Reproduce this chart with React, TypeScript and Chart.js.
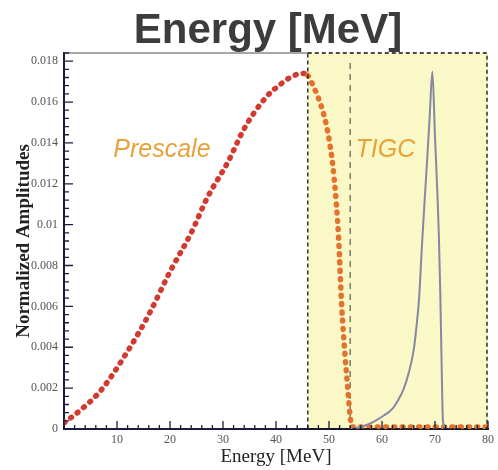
import React, { useEffect, useRef } from "react";
import { Chart, registerables } from "chart.js";

Chart.register(...registerables);

const chartTitle = "Energy [MeV]";
const xAxisTitle = "Energy [MeV]";
const yAxisTitle = "Normalized Amplitudes";

const prescaleEnergy = [0, 3, 7, 12, 16, 20, 24, 27, 31, 34, 38, 41, 43, 45, 46, 47, 48, 49, 50, 51, 51.8, 52.4, 53, 53.5, 54, 54.3, 60, 70, 80];
const prescaleAmp = [0.0003, 0.0009, 0.0019, 0.0038, 0.0056, 0.0077, 0.0096, 0.0113, 0.0131, 0.0147, 0.0162, 0.0169, 0.01725, 0.0174, 0.0173, 0.0168, 0.0162, 0.0154, 0.0142, 0.0122, 0.0094, 0.006, 0.0037, 0.0021, 0.0006, 0.0001, 0.0001, 0.0001, 0.0001];

const tigcEnergy = [54, 56, 58, 60, 62, 63, 64, 65, 66, 66.5, 67, 67.5, 68, 68.5, 69, 69.5, 70, 70.5, 70.75, 71, 71.25, 71.5, 72];
const tigcAmp = [0, 0.0001, 0.0003, 0.0006, 0.001, 0.0014, 0.0019, 0.0027, 0.0039, 0.005, 0.0064, 0.0088, 0.011, 0.0131, 0.0153, 0.0175, 0.0143, 0.0112, 0.0093, 0.0066, 0.0032, 0.0004, 0];

const yTickValues = [0, 0.002, 0.004, 0.006, 0.008, 0.01, 0.012, 0.014, 0.016, 0.018];
const tigcRegion = [46, 80];
const thresholdEnergy = [54];
const regionLabels = ["Prescale", "TIGC"];
const regionLabelAt = [[9.3, 0.0133], [55, 0.0133]];

const X_MIN = 0, X_MAX = 80, Y_MIN = 0, Y_MAX = 0.0184;

const decorPlugin = {
  id: "decor",
  beforeDraw(chart: any) {
    const { ctx, chartArea, scales } = chart;
    const x = scales.x;
    const x0 = x.getPixelForValue(tigcRegion[0]);
    const x1 = x.getPixelForValue(tigcRegion[1]);
    ctx.save();
    ctx.fillStyle = "#f9f8c6";
    ctx.fillRect(x0, chartArea.top, x1 - x0, chartArea.bottom - chartArea.top);
    ctx.restore();
    ctx.save();
    ctx.font = "bold 42px 'Liberation Sans', Arial, sans-serif";
    ctx.fillStyle = "#3c3c3c";
    ctx.textAlign = "center";
    ctx.textBaseline = "alphabetic";
    ctx.fillText(chartTitle, 268, 43);
    ctx.restore();
  },
  beforeDatasetsDraw(chart: any) {
    const { ctx, chartArea, scales } = chart;
    const xt = scales.x.getPixelForValue(thresholdEnergy[0]);
    ctx.save();
    ctx.strokeStyle = "#7c7c66";
    ctx.lineWidth = 1.5;
    ctx.setLineDash([6, 5]);
    ctx.beginPath();
    ctx.moveTo(xt, chartArea.top + 10);
    ctx.lineTo(xt, chartArea.bottom);
    ctx.stroke();
    ctx.restore();
  },
  afterDatasetsDraw(chart: any) {
    const { ctx, chartArea, scales } = chart;
    const x = scales.x, y = scales.y;
    const x0 = x.getPixelForValue(tigcRegion[0]);
    const x1 = x.getPixelForValue(tigcRegion[1]);
    ctx.save();
    ctx.strokeStyle = "#8a8a8a";
    ctx.lineWidth = 1.5;
    ctx.beginPath();
    ctx.moveTo(chartArea.left, chartArea.top);
    ctx.lineTo(x0, chartArea.top);
    ctx.stroke();
    ctx.strokeStyle = "#111";
    ctx.lineWidth = 1.3;
    ctx.setLineDash([4, 3]);
    ctx.strokeRect(x0, chartArea.top, x1 - x0 - 1, chartArea.bottom - chartArea.top);
    ctx.setLineDash([]);
    ctx.strokeStyle = "#1c1c3a";
    ctx.lineWidth = 1.3;
    ctx.beginPath();
    for (let v = X_MIN; v <= X_MAX + 1e-9; v += 2) {
      const px = x.getPixelForValue(v);
      const major = Math.abs(v % 10) < 1e-9;
      ctx.moveTo(px, chartArea.bottom);
      ctx.lineTo(px, chartArea.bottom - (major ? 8 : 4));
    }
    for (let i = 0; i * 0.0004 <= Y_MAX; i++) {
      const v = i * 0.0004;
      const py = y.getPixelForValue(v);
      const major = i % 5 === 0;
      ctx.moveTo(chartArea.left, py);
      ctx.lineTo(chartArea.left + (major ? 9 : 5), py);
    }
    ctx.stroke();
    ctx.font = "italic 25px 'Liberation Sans', Arial, sans-serif";
    ctx.fillStyle = "#e8a23a";
    ctx.textAlign = "left";
    ctx.textBaseline = "alphabetic";
    regionLabels.forEach((t, i) => {
      ctx.fillText(t, x.getPixelForValue(regionLabelAt[i][0]), y.getPixelForValue(regionLabelAt[i][1]));
    });
    ctx.restore();
  },
};

export default function App() {
  const ref = useRef<HTMLCanvasElement>(null);
  useEffect(() => {
    document.body.style.margin = "0";
    const red = "#d23a30";
    const orange = "#e2722e";
    const chart = new Chart(ref.current!, {
      type: "line",
      data: {
        datasets: [
          {
            label: "TIGC",
            data: tigcEnergy.map((e, i) => ({ x: e, y: tigcAmp[i] })),
            borderColor: "#8886a6",
            borderWidth: 2,
            pointRadius: 0,
            cubicInterpolationMode: "monotone",
            fill: false,
          },
          {
            label: "Prescale",
            data: prescaleEnergy.map((e, i) => ({ x: e, y: prescaleAmp[i] })),
            borderColor: red,
            borderWidth: 5.5,
            borderDash: [1, 7.3],
            borderCapStyle: "round",
            pointRadius: 0,
            cubicInterpolationMode: "monotone",
            fill: false,
            segment: {
              borderColor: (c: any) => (c.p0.parsed.x >= tigcRegion[0] ? orange : red),
            },
          },
        ],
      },
      options: {
        animation: false,
        responsive: false,
        maintainAspectRatio: false,
        layout: { padding: { top: 53, right: 8, left: 0, bottom: 0 } },
        plugins: { legend: { display: false }, tooltip: { enabled: false }, title: { display: false } },
        scales: {
          x: {
            type: "linear",
            min: X_MIN,
            max: X_MAX,
            grid: { display: false, drawTicks: false },
            border: { display: true, color: "#1c1c3a", width: 2 },
            ticks: {
              stepSize: 10,
              padding: 4,
              color: "#555",
              font: { family: "'Liberation Serif', 'Times New Roman', serif", size: 12 },
              maxRotation: 0,
              callback: (v: any) => (v === 0 ? "" : String(v)),
            },
            title: {
              display: true,
              text: xAxisTitle,
              color: "#222",
              font: { family: "'Liberation Serif', 'Times New Roman', serif", size: 19 },
              padding: { top: 0, bottom: 2 },
            },
            afterFit: (s: any) => { s.height = 41; },
          },
          y: {
            type: "linear",
            min: Y_MIN,
            max: Y_MAX,
            grid: { display: false, drawTicks: false },
            border: { display: true, color: "#1c1c3a", width: 2 },
            ticks: {
              padding: 6,
              color: "#555",
              font: { family: "'Liberation Serif', 'Times New Roman', serif", size: 12 },
              callback: (v: any) => String(parseFloat(Number(v).toFixed(3))),
            },
            afterBuildTicks: (s: any) => {
              s.ticks = yTickValues.map((v) => ({ value: v }));
            },
            title: {
              display: true,
              text: yAxisTitle,
              color: "#222",
              font: { family: "'Liberation Serif', 'Times New Roman', serif", size: 19, weight: "bold" },
              padding: { top: 13, bottom: 0 },
            },
            afterFit: (s: any) => { s.width = 64; },
          },
        },
      },
      plugins: [decorPlugin],
    } as any);
    return () => chart.destroy();
  }, []);
  return (
    <div style={{ width: 498, height: 470 }}>
      <canvas ref={ref} width={498} height={470} style={{ display: "block" }} />
    </div>
  );
}
